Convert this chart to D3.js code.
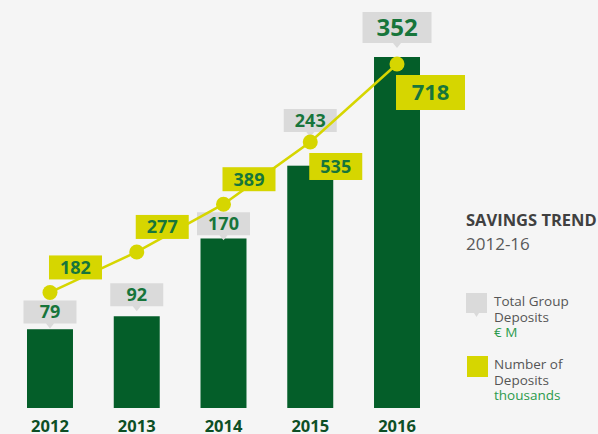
<!DOCTYPE html>
<html>
<head>
<meta charset="utf-8">
<script src="https://cdn.jsdelivr.net/npm/d3@7"></script>
<style>
  html, body { margin: 0; padding: 0; background: #f5f5f5; }
  svg { display: block; font-family: "Open Sans", "DejaVu Sans", sans-serif; }
</style>
</head>
<body>
<svg id="chart" width="598" height="434"></svg>
<script>
var years = ["2012", "2013", "2014", "2015", "2016"],
    deposits = [79, 92, 170, 243, 352],      // total group deposits, € M
    numDeposits = [182, 277, 389, 535, 718], // number of deposits, thousands
    title = "SAVINGS TREND",
    subtitle = "2012-16",
    legendItems = [
      { lines: ["Total Group", "Deposits"], unit: "€ M", kind: "grey" },
      { lines: ["Number of", "Deposits"], unit: "thousands", kind: "yellow" }
    ];

var barGreen = "#045e29",
    yellow = "#d6d600",
    grey = "#dadada",
    textGreen = "#17753b",
    yearGreen = "#0d4f25";

var svg = d3.select("#chart");

var x = d3.scaleBand()
    .domain(years)
    .range([27, 420])
    .paddingInner(0.47)
    .paddingOuter(0);

var y = d3.scaleLinear().domain([0, 352]).range([408, 57]);
var y2 = d3.scaleLinear().domain([0, 718]).range([370, 64]);

var cx = function(i) { return x(years[i]) + x.bandwidth() / 2; };
var last = years.length - 1;

// bars
svg.append("g").selectAll("rect")
    .data(deposits)
  .enter().append("rect")
    .attr("x", function(d, i) { return x(years[i]); })
    .attr("y", function(d) { return y(d); })
    .attr("width", x.bandwidth())
    .attr("height", function(d) { return y(0) - y(d); })
    .attr("fill", barGreen);

// year labels
svg.append("g").selectAll("text")
    .data(years)
  .enter().append("text")
    .attr("x", function(d, i) { return cx(i); })
    .attr("y", 432)
    .attr("text-anchor", "middle")
    .attr("font-size", 16.5)
    .attr("font-weight", 700)
    .attr("fill", yearGreen)
    .text(function(d) { return d; });

// grey callouts above bars, nudged so they don't sit on the line's dots
function calloutSize(i) { return i === last ? { w: 69, h: 31, fs: 24 } : { w: 53, h: 23, fs: 18 }; }
function calloutBottom(i) {
  var s = calloutSize(i),
      barTop = y(deposits[i]),
      bottom = barTop - (i === last ? 14 : 10),
      top = bottom - s.h,
      dot = y2(numDeposits[i]);
  if (dot + 8 > top && dot - 8 < bottom + 5) {
    var below = dot + 8 + s.h;
    if (dot < (top + bottom) / 2 && below + 5 <= barTop + 3) bottom = below; // push below the dot
    else bottom = dot - 10;                                                 // lift above the dot
  }
  return bottom;
}

var callout = svg.append("g").selectAll("g")
    .data(deposits)
  .enter().append("g")
    .attr("transform", function(d, i) { return "translate(" + cx(i) + "," + calloutBottom(i) + ")"; });

callout.append("path")
    .attr("fill", grey)
    .attr("d", function(d, i) {
      var s = calloutSize(i);
      return "M" + (-s.w / 2) + "," + (-s.h) + "H" + (s.w / 2) + "V0H4L0,5L-4,0H" + (-s.w / 2) + "Z";
    });

callout.append("text")
    .attr("text-anchor", "middle")
    .attr("y", function(d, i) { var s = calloutSize(i); return -s.h / 2 + s.fs * 0.36; })
    .attr("font-size", function(d, i) { return calloutSize(i).fs; })
    .attr("font-weight", 700)
    .attr("fill", textGreen)
    .text(function(d) { return d; });

// line for number of deposits
var line = d3.line()
    .x(function(d, i) { return cx(i); })
    .y(function(d) { return y2(d); });

svg.append("path")
    .datum(numDeposits)
    .attr("fill", "none")
    .attr("stroke", yellow)
    .attr("stroke-width", 2.5)
    .attr("d", line);

svg.append("g").selectAll("circle")
    .data(numDeposits)
  .enter().append("circle")
    .attr("cx", function(d, i) { return cx(i); })
    .attr("cy", function(d) { return y2(d); })
    .attr("r", 7.5)
    .attr("fill", yellow);

// yellow value boxes: above-right for early years, below-right for the last two
var ybox = svg.append("g").selectAll("g")
    .data(numDeposits)
  .enter().append("g")
    .attr("transform", function(d, i) { return "translate(" + (cx(i) - 1) + "," + y2(d) + ")"; });

function boxSize(i) {
  if (i === last) return { w: 69, h: 35, fs: 22 };
  if (i === last - 1) return { w: 53, h: 27, fs: 18 };
  return { w: 53, h: 24, fs: 18 };
}
function boxTop(i) {
  var s = boxSize(i);
  return i >= last - 1 ? 11 : -13 - s.h;
}

ybox.append("rect")
    .attr("x", 0)
    .attr("y", function(d, i) { return boxTop(i); })
    .attr("width", function(d, i) { return boxSize(i).w; })
    .attr("height", function(d, i) { return boxSize(i).h; })
    .attr("fill", yellow);

ybox.append("text")
    .attr("x", function(d, i) { return boxSize(i).w / 2; })
    .attr("y", function(d, i) { var s = boxSize(i); return boxTop(i) + s.h / 2 + s.fs * 0.36; })
    .attr("text-anchor", "middle")
    .attr("font-size", function(d, i) { return boxSize(i).fs; })
    .attr("font-weight", 700)
    .attr("fill", textGreen)
    .text(function(d) { return d; });

// title
svg.append("text")
    .attr("x", 466).attr("y", 226)
    .attr("font-size", 16.5)
    .attr("font-weight", 700)
    .attr("fill", "#404040")
    .text(title);

svg.append("text")
    .attr("x", 466).attr("y", 250)
    .attr("font-size", 17)
    .attr("fill", "#595959")
    .text(subtitle);

// legend
var legend = svg.append("g").selectAll("g")
    .data(legendItems)
  .enter().append("g")
    .attr("transform", function(d, i) { return "translate(466," + (293 + i * 63) + ")"; });

legend.append("path")
    .attr("fill", function(d) { return d.kind === "grey" ? grey : yellow; })
    .attr("d", function(d) {
      return d.kind === "grey"
        ? "M0,0H21V20H13L10.5,24L8,20H0Z"
        : "M1,0H22V21H1Z";
    });

legend.selectAll("text")
    .data(function(d) {
      return d.lines.map(function(t) { return { t: t, unit: false }; })
        .concat([{ t: d.unit, unit: true }]);
    })
  .enter().append("text")
    .attr("x", 28)
    .attr("y", function(d, i) { return 13 + i * 15.5; })
    .attr("font-size", 13.5)
    .attr("fill", function(d) { return d.unit ? "#2b9a4c" : "#555555"; })
    .text(function(d) { return d.t; });
</script>
</body>
</html>
